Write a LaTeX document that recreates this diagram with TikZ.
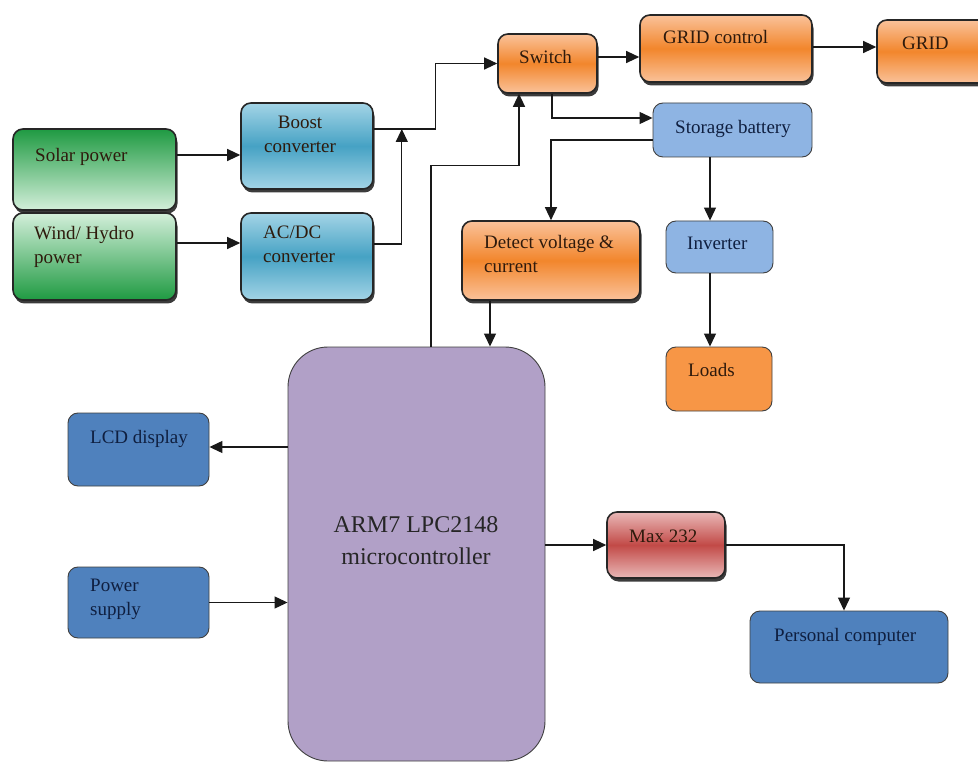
\documentclass[tikz,border=0pt]{standalone}
\usepackage{fontspec}
\setmainfont{Liberation Serif}
\usetikzlibrary{arrows.meta,shadows}
\definecolor{gdark}{HTML}{1F9A42}
\definecolor{glight}{HTML}{D3EFDA}
\definecolor{tlight}{HTML}{A3D4E6}
\definecolor{tmid}{HTML}{46A2C4}
\definecolor{olight}{HTML}{FAC29A}
\definecolor{omid}{HTML}{F2862C}
\definecolor{rlight}{HTML}{E9B8B7}
\definecolor{rmid}{HTML}{C24A47}
\definecolor{lblue}{HTML}{8EB4E3}
\definecolor{dblue}{HTML}{4F81BD}
\definecolor{flato}{HTML}{F79646}
\definecolor{purp}{HTML}{B1A0C7}
\definecolor{navy}{HTML}{0F1F40}
\definecolor{brownt}{HTML}{2E1A0C}
\tikzset{
  x=1pt, y=-1pt,
  box/.style={rectangle, rounded corners=10pt, inner sep=0pt},
  gloss/.style={box, draw=black!85, line width=1.6pt,
    drop shadow={shadow xshift=1.5pt, shadow yshift=-3.5pt, fill=black!85, opacity=0.9}},
  flat/.style={box, draw=black!75, line width=0.9pt},
  greendown/.style={gloss, top color=gdark, bottom color=glight},
  greenup/.style={gloss, top color=glight, bottom color=gdark},
  teal/.style={gloss, top color=tlight, bottom color=tlight, middle color=tmid},
  orng/.style={gloss, top color=olight, bottom color=olight, middle color=omid},
  redb/.style={gloss, top color=rlight, bottom color=rlight, middle color=rmid},
  arr/.style={draw=black!90, line width=1.2pt, -{Triangle[length=13pt,width=12pt]}},
  txt/.style={inner sep=0pt, anchor=north west, align=left,
    font=\fontsize{19}{24}\selectfont, text=brownt, execute at begin node=\strut},
}
\begin{document}
\begin{tikzpicture}
\useasboundingbox (0,0) rectangle (978,762);
\clip (0,0) rectangle (978,762);
\fill[white] (0,0) rectangle (978,762);

% boxes
\node[greendown, minimum width=163, minimum height=81] (solar) at (94.5,169.5) {};
\node[greenup, minimum width=163, minimum height=87] (wind) at (94.5,256.5) {};
\node[teal, minimum width=132, minimum height=86] (boost) at (307,146) {};
\node[teal, minimum width=132, minimum height=87] (acdc) at (307,256.5) {};
\node[orng, minimum width=99, minimum height=59] (switch) at (547.5,63.5) {};
\node[orng, minimum width=172, minimum height=67] (gridc) at (726,48.5) {};
\node[orng, minimum width=123, minimum height=63] (grid) at (938.5,51.5) {};
\node[flat, fill=lblue, minimum width=159, minimum height=54] (storage) at (732.5,130) {};
\node[flat, fill=lblue, minimum width=107, minimum height=52] (inverter) at (719.5,247) {};
\node[orng, minimum width=178, minimum height=79] (detect) at (551,260.5) {};
\node[flat, fill=flato, minimum width=106, minimum height=64] (loads) at (719,379) {};
\node[flat, fill=purp, rounded corners=40pt, minimum width=257, minimum height=414] (arm) at (416.5,554) {};
\node[flat, fill=dblue, minimum width=141, minimum height=73] (lcd) at (138.5,449.5) {};
\node[flat, fill=dblue, minimum width=141, minimum height=71] (ps) at (138.5,602.5) {};
\node[redb, minimum width=118, minimum height=66] (max) at (666,545) {};
\node[flat, fill=dblue, minimum width=198, minimum height=72] (pc) at (849,647) {};

% texts
\node[txt] (solar-t) at (35,144.2) {Solar power};
\node[txt] (wind-t) at (34,226.2) {Wind/ Hydro\\power};
\node[txt, anchor=north, align=center] (boost-t) at (300,116.2) {Boost\\converter};
\node[txt] (acdc-t) at (263,226.2) {AC/DC\\converter};
\node[txt] (switch-t) at (519,46.2) {Switch};
\node[txt] (gridc-t) at (663,26.2) {GRID control};
\node[txt] (grid-t) at (902,32.2) {GRID};
\node[txt, text=navy] (storage-t) at (675,116.2) {Storage battery};
\node[txt, text=navy] (inverter-t) at (687,232.2) {Inverter};
\node[txt] (detect-t) at (484,235.2) {Detect voltage \&\\current};
\node[txt] (loads-t) at (688,359.2) {Loads};
\node[txt, text=navy] (lcd-t) at (90,426.2) {LCD display};
\node[txt, text=navy] (ps-t) at (90,579.2) {Power\\supply};
\node[txt, anchor=north, align=center, text=black!85, font=\fontsize{24}{32}\selectfont] (arm-t) at (416,516.6) {ARM7 LPC2148\\microcontroller};
\node[txt] (max-t) at (629,525.2) {Max 232};
\node[txt, text=navy] (pc-t) at (774,624.2) {Personal computer};

% connectors
\coordinate (s1) at ([yshift=14.5pt]solar.east);
\draw[arr] (s1) -- (s1 -| boost.west);
\coordinate (w1) at ([yshift=13.5pt]wind.east);
\draw[arr] (w1) -- (w1 -| acdc.west);
\coordinate (b1) at ([yshift=17pt]boost.east);
\coordinate (join) at ([xshift=28pt]b1);
\draw[arr] (b1) -- ++(62,0) |- (switch.west);
\coordinate (a1) at ([yshift=12.5pt]acdc.east);
\draw[arr] (a1) -| (join);
\coordinate (sw1) at ([yshift=6.5pt]switch.east);
\draw[arr] (sw1) -- (sw1 -| gridc.west);
\coordinate (gc1) at ([yshift=1.5pt]gridc.east);
\draw[arr] (gc1) -- (gc1 -| grid.west);
\draw[arr] ([xshift=4.5pt]switch.south) |- ([yshift=12pt]storage.west);
\draw[arr] ([yshift=-10pt]storage.west) -| (detect.north);
\coordinate (st1) at ([xshift=-22.5pt]storage.south);
\draw[arr] (st1) -- (st1 |- inverter.north);
\coordinate (in1) at ([xshift=-9.5pt]inverter.south);
\draw[arr] (in1) -- (in1 |- loads.north);
\coordinate (m1) at ([xshift=14.5pt]arm.north);
\coordinate (sw2) at ([xshift=-28.5pt]switch.south);
\draw[arr] (m1) -- ++(0,-181) -| (sw2);
\coordinate (d1) at ([xshift=-61pt]detect.south);
\draw[arr] (d1) -- (d1 |- arm.north);
\coordinate (l1) at ([yshift=2.5pt]lcd.east);
\draw[arr] (l1 -| arm.west) -- (l1);
\draw[arr] (ps.east) -- (ps.east -| arm.west);
\draw[arr] (max.west -| arm.east) -- (max.west);
\draw[arr] (max.east) -| ([xshift=-5pt]pc.north);
\end{tikzpicture}
\end{document}
